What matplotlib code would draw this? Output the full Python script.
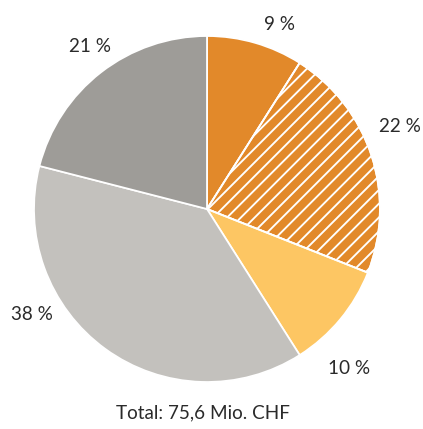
import matplotlib
matplotlib.use("Agg")
import numpy as np
import matplotlib.pyplot as plt
from matplotlib.patches import Wedge

# Data
labels = ["9 %", "22 %", "10 %", "38 %", "21 %"]
values = [9, 22, 10, 38, 21]
colors = ["#E2892A", "#E2892A", "#FDC663", "#C3C1BD", "#9E9C98"]
hatched = [False, True, False, False, False]
total_text = "Total: 75,6 Mio. CHF"

# Layout (data units = pixels, pie centre at origin)
label_pos = [(73, 184), (193, 83), (142, -159), (-175, -105), (-117, 162)]
total_pos = (-4, -204)
hatch_step = 13.8

DPI = 80
W, H = 423, 429
plt.rcParams["font.family"] = ["Lato", "DejaVu Sans"]

fig = plt.figure(figsize=(W / DPI, H / DPI), dpi=DPI)
ax = fig.add_axes([0, 0, 1, 1])
cx, cy = 207, 209
R = 173

wedges, _ = ax.pie(values, colors=colors, startangle=90, counterclock=False,
                   radius=R, center=(0, 0),
                   wedgeprops=dict(edgecolor="white", linewidth=1.6))

# manual diagonal hatching clipped to wedge
for w, h in zip(wedges, hatched):
    if h:
        for c in np.arange(-2 * R, 2 * R, hatch_step):
            ln, = ax.plot([-R, R], [-R + c, R + c], color="white", lw=1.7,
                          solid_capstyle="butt", zorder=w.get_zorder() + 0.1)
            ln.set_clip_path(w)
        ax.add_patch(Wedge(w.center, w.r, w.theta1, w.theta2, facecolor="none",
                           edgecolor="white", linewidth=1.6,
                           zorder=w.get_zorder() + 0.2))

ax.set_xlim(-cx, W - cx)
ax.set_ylim(-(H - cy), cy)
ax.set_aspect("equal")
ax.axis("off")

for lab, (x, y) in zip(labels, label_pos):
    ax.text(x, y, lab, ha="center", va="center", fontsize=17, color="#2a2a2a")

ax.text(total_pos[0], total_pos[1], total_text, ha="center", va="center",
        fontsize=17, color="#2a2a2a")

fig.savefig("out.png", dpi=DPI)
